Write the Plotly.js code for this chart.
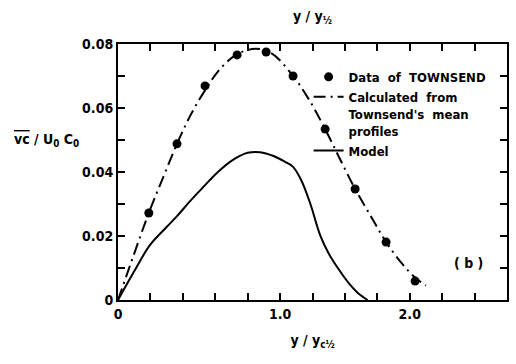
<!DOCTYPE html>
<html>
<head>
<meta charset="utf-8">
<script src="https://cdn.plot.ly/plotly-3.0.1.min.js"></script>
<style>html,body{margin:0;padding:0;background:#fff;}#chart{width:516px;height:364px;}</style>
</head>
<body>
<div id="chart"></div>
<script>
// Townsend data points
const townsendX = [0.19, 0.364, 0.537, 0.735, 0.914, 1.08, 1.278, 1.463, 1.654, 1.833];
const townsendY = [0.0272, 0.0488, 0.0669, 0.0766, 0.0775, 0.0700, 0.0534, 0.0347, 0.0181, 0.0059];

// Calculated from Townsend's mean profiles
const calcX = [0, 0.1, 0.19, 0.28, 0.364, 0.45, 0.537, 0.63, 0.735, 0.85, 0.95, 1.08, 1.18, 1.278, 1.37, 1.463, 1.56, 1.654, 1.75, 1.833, 1.9];
const calcY = [0, 0.0145, 0.0272, 0.0385, 0.0488, 0.0580, 0.0655, 0.0722, 0.0768, 0.0785, 0.0770, 0.0700, 0.0625, 0.0534, 0.0440, 0.0347, 0.0262, 0.0181, 0.0115, 0.0070, 0.0045];

// Model
const modelX = [0, 0.1, 0.198, 0.3, 0.364, 0.45, 0.53, 0.61, 0.7, 0.8, 0.876, 0.96, 1.03, 1.08, 1.13, 1.185, 1.247, 1.3, 1.352, 1.42, 1.48, 1.54];
const modelY = [0, 0.0090, 0.0172, 0.0228, 0.0262, 0.0312, 0.0355, 0.0397, 0.0435, 0.0460, 0.0462, 0.0450, 0.0432, 0.0416, 0.0375, 0.0303, 0.0203, 0.0145, 0.0103, 0.0055, 0.0022, 0];

// Tick labels
const xTickVals = [0, 0.2, 0.4, 0.6, 0.8, 1.0, 1.2, 1.4, 1.6, 1.8, 2.0, 2.2, 2.4];
const xTickText = ['0', '', '', '', '', '1.0', '', '', '', '2.0', '', '', ''];
const yTickVals = [0, 0.01, 0.02, 0.03, 0.04, 0.05, 0.06, 0.07, 0.08];
const yTickText = ['0', '', '0.02', '', '0.04', '', '0.06', '', '0.08'];

const FONT = '"Liberation Sans Narrow", "DejaVu Sans Condensed", "Liberation Sans", sans-serif';

const traces = [
  {x: townsendX, y: townsendY, mode: 'markers', type: 'scatter', name: '<b>Data  of  TOWNSEND</b>',
   marker: {color: '#000', size: 9}},
  {x: calcX, y: calcY, mode: 'lines', type: 'scatter', name: '<b>Calculated  from<br>Townsend\'s  mean<br>profiles</b>',
   line: {color: '#000', width: 2, dash: '12px,5px,2px,5px', shape: 'spline'}},
  {x: modelX, y: modelY, mode: 'lines', type: 'scatter', name: '<b>Model</b>',
   line: {color: '#000', width: 2, shape: 'spline'}}
];

const layout = {
  width: 516, height: 364,
  margin: {l: 118, r: 9, t: 44, b: 64},
  paper_bgcolor: '#fff', plot_bgcolor: '#fff',
  font: {family: FONT, color: '#000', size: 13},
  showlegend: true,
  legend: {x: 0.49, xanchor: 'left', y: 0.93, yanchor: 'top', bgcolor: 'rgba(0,0,0,0)',
           font: {family: FONT, size: 13, color: '#000'}, valign: 'top', tracegroupgap: 2,
           itemwidth: 30},
  xaxis: {range: [0, 2.4], tickmode: 'array', tickvals: xTickVals, ticktext: xTickText,
          ticks: 'inside', ticklen: 7, tickwidth: 2, tickcolor: '#000',
          showline: true, linewidth: 2, linecolor: '#000', mirror: 'allticks',
          showgrid: false, zeroline: false, tickfont: {family: FONT, size: 14, color: '#000', weight: 'bold'},
          title: {text: '<b>y / y<sub>c½</sub></b>', font: {family: FONT, size: 14}, standoff: 14}},
  yaxis: {range: [0, 0.08], tickmode: 'array', tickvals: yTickVals, ticktext: yTickText,
          ticks: 'inside', ticklen: 7, tickwidth: 2, tickcolor: '#000',
          showline: true, linewidth: 2, linecolor: '#000', mirror: 'allticks',
          showgrid: false, zeroline: false, tickfont: {family: FONT, size: 14, color: '#000', weight: 'bold'}},
  title: {text: '<b>y / y<sub>½</sub></b>', font: {family: FONT, size: 14, color: '#000'},
          x: 0.5, xanchor: 'center', xref: 'paper', y: 0.955, yanchor: 'middle'},
  annotations: [
    {text: '<b><span style="text-decoration:overline">vc</span> / U<sub>0</sub> C<sub>0</sub></b>',
     xref: 'paper', yref: 'paper', x: -0.185, y: 0.625, xanchor: 'center', yanchor: 'middle',
     showarrow: false, font: {family: FONT, size: 14, color: '#000'}},
    {text: '<b>( b )</b>', xref: 'x', yref: 'y', x: 2.16, y: 0.0115, showarrow: false,
     font: {family: FONT, size: 14, color: '#000'}}
  ]
};

Plotly.newPlot('chart', traces, layout, {displayModeBar: false, staticPlot: true});
</script>
</body>
</html>
